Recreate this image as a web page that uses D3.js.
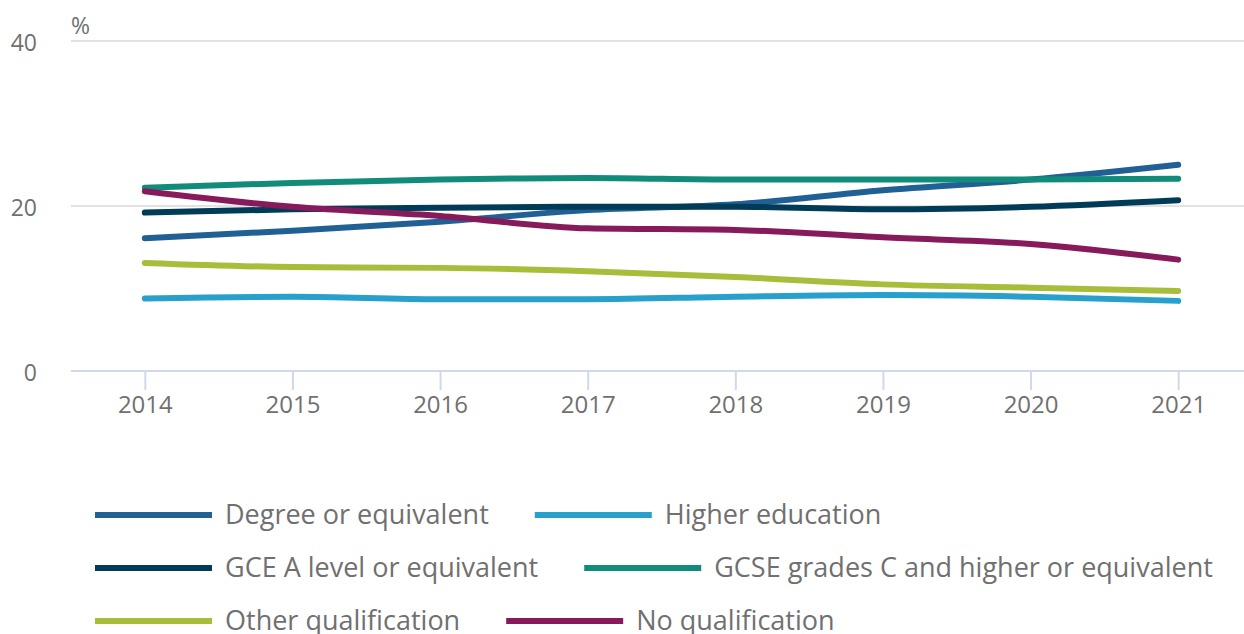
<!DOCTYPE html>
<html><head><meta charset="utf-8">
<script src="https://cdn.jsdelivr.net/npm/d3@7"></script>
<style>
html,body{margin:0;padding:0;background:#fff;}
text{font-family:"Open Sans",sans-serif;fill:#707070;}
</style></head>
<body><svg id="c" width="1244" height="634"></svg>
<script>
const years = ["2014","2015","2016","2017","2018","2019","2020","2021"];
const seriesNames = ["Degree or equivalent","Higher education","GCE A level or equivalent","GCSE grades C and higher or equivalent","Other qualification","No qualification"];
const seriesColors = ["#206095","#27a0cc","#003c57","#118c7b","#a8bd3a","#871a5b"];
const degree = [16.1,17.0,18.1,19.5,20.2,21.9,23.2,25.0];
const higherEd = [8.8,9.0,8.7,8.7,9.0,9.2,9.0,8.5];
const gceALevel = [19.2,19.6,19.8,19.9,19.9,19.6,19.9,20.7];
const gcse = [22.2,22.8,23.2,23.4,23.2,23.2,23.2,23.3];
const other = [13.1,12.6,12.5,12.1,11.4,10.5,10.1,9.7];
const noQual = [21.8,19.9,18.8,17.3,17.1,16.2,15.4,13.5];
const yTicks = [0,20,40];
const seriesValues = [degree,higherEd,gceALevel,gcse,other,noQual];

(function(){
const svg = d3.select("#c");
const mLeft = 71, mRight = 1252, mTop = 41, mBottom = 371;
const x = d3.scalePoint().domain(years).range([mLeft,mRight]).padding(0.5);
const y = d3.scaleLinear().domain([0,40]).range([mBottom,mTop]);

svg.append("g").selectAll("line").data(yTicks.filter(d=>d>0)).join("line")
  .attr("x1",mLeft).attr("x2",1244).attr("y1",d=>y(d)).attr("y2",d=>y(d))
  .attr("stroke","#e2e2e3").attr("stroke-width",2);
svg.append("line").attr("x1",mLeft).attr("x2",1244).attr("y1",y(0)).attr("y2",y(0))
  .attr("stroke","#d0d8ec").attr("stroke-width",2);

svg.append("g").selectAll("text").data(yTicks).join("text")
  .attr("x",37).attr("y",d=>y(d)+10).attr("text-anchor","end")
  .style("font-size","23px").text(d=>d);
svg.append("text").attr("x",71).attr("y",34).style("font-size","23px").text("%");

const xa = svg.append("g").attr("transform",`translate(0,${mBottom})`)
  .call(d3.axisBottom(x).tickSize(19).tickPadding(6));
xa.select(".domain").remove();
xa.selectAll(".tick line").attr("stroke","#d0d8ec").attr("stroke-width",2);
xa.selectAll(".tick text").style("font-size","24px").attr("fill","#707070").style("font-family","'Open Sans',sans-serif");

const line = d3.line().x((d,i)=>x(years[i])).y(d=>y(d)).curve(d3.curveMonotoneX);
svg.append("g").selectAll("path").data(seriesValues).join("path")
  .attr("d",line).attr("fill","none")
  .attr("stroke",(d,i)=>seriesColors[i]).attr("stroke-width",6)
  .attr("stroke-linecap","round").attr("stroke-linejoin","round");

const rows = [[0,1],[2,3],[4,5]];
const rowY = [515,568,621];
rows.forEach((r,ri)=>{
  let cx = 95;
  r.forEach(si=>{
    const g = svg.append("g");
    g.append("line").attr("x1",cx).attr("x2",cx+117).attr("y1",rowY[ri]).attr("y2",rowY[ri])
      .attr("stroke",seriesColors[si]).attr("stroke-width",6);
    const t = g.append("text").attr("x",cx+130).attr("y",rowY[ri]+9)
      .style("font-size","27px").text(seriesNames[si]);
    cx = cx + 130 + t.node().getComputedTextLength() + 46;
  });
});
})();
</script></body></html>
